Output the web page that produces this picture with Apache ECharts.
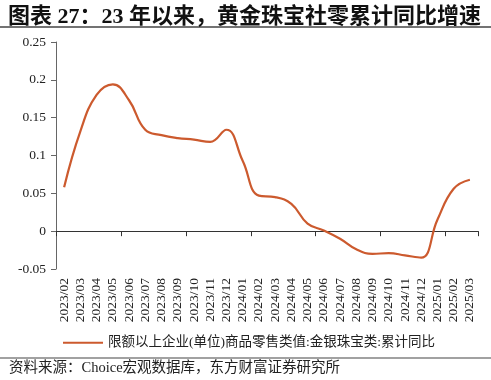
<!DOCTYPE html>
<html><head><meta charset="utf-8">
<script src="https://cdn.jsdelivr.net/npm/echarts@6/dist/echarts.min.js"></script>
<style>html,body{margin:0;padding:0;background:#fff}#c{width:491px;height:380px}</style>
</head><body><div id="c"></div>
<script>
var categories = ['2023/02','2023/03','2023/04','2023/05','2023/06','2023/07','2023/08','2023/09','2023/10','2023/11','2023/12','2024/01','2024/02','2024/03','2024/04','2024/05','2024/06','2024/07','2024/08','2024/09','2024/10','2024/11','2024/12','2025/01','2025/02','2025/03'];
var values = [0.058,0.132,0.180,0.194,0.173,0.134,0.127,0.123,0.121,0.118,0.134,0.093,0.047,0.045,0.036,0.010,0.001,-0.010,-0.024,-0.030,-0.029,-0.032,-0.035,0.015,0.056,0.068];
var seriesName = '限额以上企业(单位)商品零售类值:金银珠宝类:累计同比';
var titleText = '图表 27：23 年以来，黄金珠宝社零累计同比增速';
var sourceText = '资料来源：Choice宏观数据库，东方财富证券研究所';
var yMin = -0.05, yMax = 0.25, yStep = 0.05;

var chart = echarts.init(document.getElementById('c'), null, {renderer:'canvas'});
var serif = '"Liberation Serif","DejaVu Serif","Noto Sans CJK SC",serif';
chart.setOption({
  animation:false,
  backgroundColor:'#fff',
  title:{text:titleText,left:3,top:1,textStyle:{fontFamily:'"Liberation Serif","Noto Sans CJK SC",serif',fontWeight:'bold',fontSize:22,color:'#111'}},
  graphic:[
    {type:'line',shape:{x1:0,y1:27,x2:491,y2:27},style:{stroke:'#444',lineWidth:1.5}},
    {type:'line',shape:{x1:0,y1:358,x2:491,y2:358},style:{stroke:'#444',lineWidth:1.2}},
    {type:'text',left:9,top:361,style:{text:sourceText,font:'14.5px "Liberation Serif","Noto Sans CJK SC",serif',fill:'#222'}}
  ],
  legend:{data:[seriesName],left:58,top:331,itemWidth:40,itemHeight:2,itemGap:6,icon:'rect',
    textStyle:{fontFamily:'"Liberation Serif","Noto Sans CJK SC",serif',fontSize:13.5,color:'#222'}},
  grid:{left:56,right:13,top:42,bottom:111,containLabel:false},
  xAxis:[
    {type:'category',data:categories,boundaryGap:true,
     axisLine:{onZero:true,lineStyle:{color:'#333',width:1}},
     axisTick:{show:true,length:5,lineStyle:{color:'#333'}},
     axisLabel:{show:false},splitLine:{show:false}},
    {type:'category',data:categories,position:'bottom',boundaryGap:true,
     axisLine:{show:false,onZero:false},axisTick:{show:false},
     axisLabel:{show:true,rotate:90,interval:0,margin:9,fontFamily:serif,fontSize:13.5,color:'#222'},
     splitLine:{show:false}}
  ],
  yAxis:{type:'value',min:yMin,max:yMax,interval:yStep,
    axisLine:{show:true,lineStyle:{color:'#666',width:1}},
    axisTick:{show:true,length:5,lineStyle:{color:'#666'}},
    axisLabel:{fontFamily:serif,fontSize:13.5,color:'#222',margin:10},
    splitLine:{show:false}},
  series:[{name:seriesName,type:'line',xAxisIndex:0,data:values,smooth:0.45,showSymbol:false,
    lineStyle:{color:'#CC5A2E',width:2.2},itemStyle:{color:'#CC5A2E'}}]
});
</script></body></html>
